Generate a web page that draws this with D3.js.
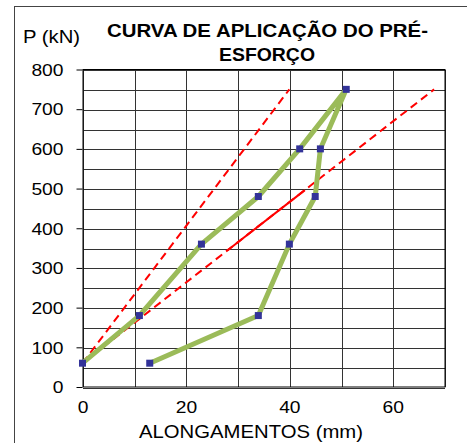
<!DOCTYPE html>
<html>
<head>
<meta charset="utf-8">
<script src="https://cdn.jsdelivr.net/npm/d3@7"></script>
<style>
  body { margin: 0; background: #fff; }
  svg { display: block; font-family: "Liberation Sans", Arial, sans-serif; }
</style>
</head>
<body>
<div id="chart"></div>
<script>
// curva de aplicacao - alongamento (mm) vs carga P (kN)
let alongamentos = [13, 34, 40, 45, 46, 51, 42, 34, 23, 11, 0];
let cargas = [60, 180, 360, 480, 600, 750, 600, 480, 360, 180, 60];

// rectas de referencia (tracejado)
let retaA = [[0, 60], [40, 750]];
let retaB = [[0, 60], [68, 750]];
let retaSolida = [[28, 344], [43, 496]];

let xTicks = [0, 20, 40, 60];
let yTicks = [0, 100, 200, 300, 400, 500, 600, 700, 800];

let W = 467, H = 443;
let margin = {top: 69.5, right: 22.5, bottom: 56, left: 82.5},
    width = W - margin.left - margin.right,
    height = H - margin.top - margin.bottom;

let x = d3.scaleLinear().domain([0, 70]).range([0, width]);
let y = d3.scaleLinear().domain([0, 800]).range([height, 0]);

let root = d3.select("#chart").append("svg")
    .attr("width", W)
    .attr("height", H);

// moldura exterior
root.append("rect")
    .attr("x", 14.5).attr("y", 6.5)
    .attr("width", 470).attr("height", 460)
    .style("fill", "none")
    .style("stroke", "#444");

let svg = root.append("g")
    .attr("transform", "translate(" + margin.left + "," + margin.top + ")");

// grelha
svg.append("g").selectAll("line")
    .data(d3.range(0, 801, 50))
    .join("line")
    .attr("x1", 0).attr("x2", width)
    .attr("y1", d => Math.round(y(d)) + 0.5)
    .attr("y2", d => Math.round(y(d)) + 0.5)
    .style("stroke", "#333")
    .style("shape-rendering", "crispEdges");

svg.append("g").selectAll("line")
    .data(d3.range(0, 71, 10))
    .join("line")
    .attr("y1", 0).attr("y2", height)
    .attr("x1", d => Math.round(x(d)) + 0.5)
    .attr("x2", d => Math.round(x(d)) + 0.5)
    .style("stroke", "#333")
    .style("shape-rendering", "crispEdges");

// os textos do excel saem mais largos, por isso forca-se a largura
let digitW = 10.7;

let yAxis = d3.axisLeft(y).tickValues(yTicks).tickSize(6).tickPadding(13);
let xAxis = d3.axisBottom(x).tickValues(xTicks).tickSize(0).tickPadding(15);

let gy = svg.append("g").call(yAxis);
gy.select(".domain").remove();
gy.selectAll("line").style("stroke", "#000");
gy.selectAll("text").style("font-size", "16px").style("fill", "#000")
    .attr("dy", "0.36em")
    .attr("lengthAdjust", "spacingAndGlyphs")
    .attr("textLength", d => String(d).length * digitW);

let gx = svg.append("g")
    .attr("transform", "translate(0," + height + ")")
    .call(xAxis);
gx.select(".domain").remove();
gx.selectAll("text").style("font-size", "16px").style("fill", "#000")
    .attr("lengthAdjust", "spacingAndGlyphs")
    .attr("textLength", d => String(d).length * digitW);

svg.append("rect")
    .attr("x", 0.5).attr("y", 0)
    .attr("width", width).attr("height", height)
    .style("fill", "none")
    .style("stroke", "#000");

let line = d3.line()
    .x(d => x(d[0]))
    .y(d => y(d[1]));

// rectas vermelhas
[retaA, retaB].forEach(function(r) {
    svg.append("path")
        .datum(r)
        .attr("d", line)
        .style("fill", "none")
        .style("stroke", "#ff0000")
        .style("stroke-width", 2)
        .style("stroke-dasharray", "8,5");
});
svg.append("path")
    .datum(retaSolida)
    .attr("d", line)
    .style("fill", "none")
    .style("stroke", "#ff0000")
    .style("stroke-width", 2);

// curva
let pts = alongamentos.map((d, i) => [d, cargas[i]]);
svg.append("path")
    .datum(pts)
    .attr("d", line)
    .style("fill", "none")
    .style("stroke", "#9bbb59")
    .style("stroke-width", 5)
    .style("stroke-linejoin", "round");

svg.append("g").selectAll("rect")
    .data(pts)
    .join("rect")
    .attr("x", d => x(d[0]) - 3.5)
    .attr("y", d => y(d[1]) - 3.5)
    .attr("width", 7).attr("height", 7)
    .style("fill", "#333399");

// textos
function texto(tx, ty, s, size, len, bold) {
    root.append("text")
        .attr("x", tx).attr("y", ty)
        .attr("textLength", len)
        .attr("lengthAdjust", "spacingAndGlyphs")
        .style("font-size", size + "px")
        .style("font-weight", bold ? "bold" : "normal")
        .text(s);
}
texto(107, 37, "CURVA DE APLICAÇÃO DO PRÉ-", 17.5, 321, true);
texto(219, 61, "ESFORÇO", 17.5, 96, true);
texto(23, 43, "P (kN)", 18, 57);
texto(139, 438, "ALONGAMENTOS (mm)", 18, 224);
</script>
</body>
</html>
